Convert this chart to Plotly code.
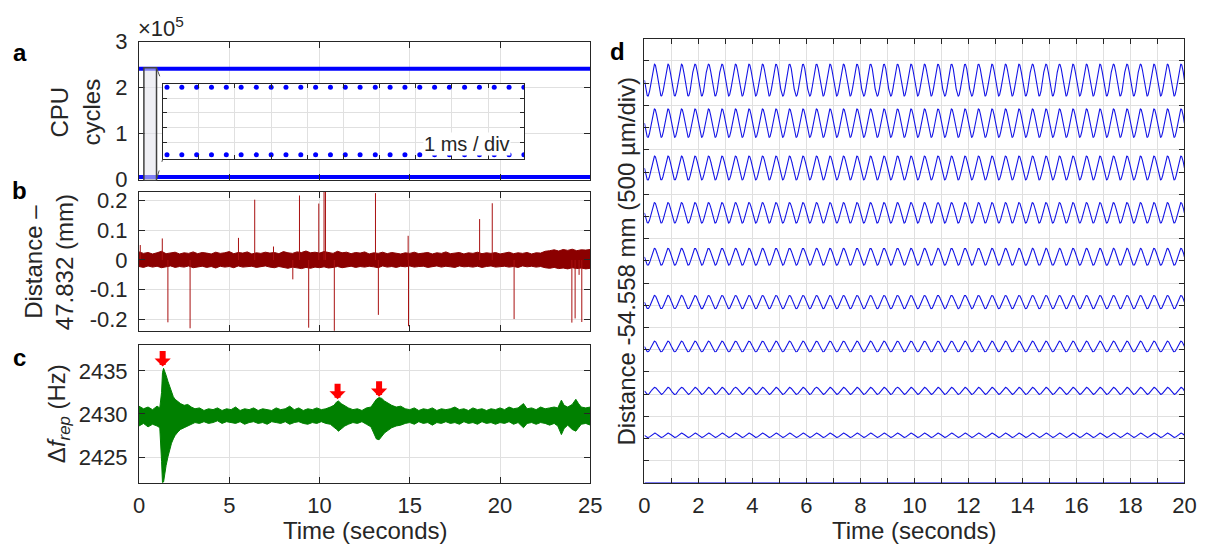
import numpy as np
import plotly.graph_objects as go

W, H = 1223, 558
FONT = "Liberation Sans, Arial, Helvetica, sans-serif"
TXT = "#262626"
GRID = "#e0e0e0"
AX = "#262626"

# ---------------- data ----------------
# panel a: CPU cycles (two levels) and inset samples (ms)
cpu_time = [0.0, 25.0]
cpu_high = [241000, 241000]
cpu_low = [5500, 5500]
inset_ms = [0.12, 0.53, 0.94, 1.35, 1.76, 2.17, 2.59, 3.00, 3.41, 3.82, 4.23, 4.64,
            5.05, 5.46, 5.88, 6.29, 6.70, 7.11, 7.52, 7.93, 8.35, 8.76, 9.17, 9.58, 9.99]
zoom_window = [0.27, 0.97]          # highlighted time window (s)

# panel b: distance noise envelope (sampled every 0.25 s) + spikes (mm)
b_t = [i * 0.25 for i in range(101)]
b_upper = [0.027, 0.022, 0.025, 0.020, 0.024, 0.029, 0.021, 0.023, 0.026, 0.020,
           0.024, 0.022, 0.027, 0.021, 0.025, 0.023, 0.020, 0.026, 0.022, 0.024,
           0.028, 0.021, 0.025, 0.023, 0.027, 0.020, 0.024, 0.022, 0.026, 0.023,
           0.025, 0.021, 0.028, 0.024, 0.022, 0.027, 0.025, 0.030, 0.024, 0.026,
           0.023, 0.028, 0.025, 0.022, 0.029, 0.024, 0.026, 0.021, 0.025, 0.023,
           0.027, 0.020, 0.024, 0.022, 0.026, 0.021, 0.025, 0.023, 0.020, 0.024,
           0.022, 0.026, 0.021, 0.023, 0.025, 0.020, 0.024, 0.022, 0.027, 0.021,
           0.023, 0.025, 0.020, 0.024, 0.022, 0.026, 0.021, 0.024, 0.022, 0.025,
           0.020, 0.023, 0.026, 0.021, 0.024, 0.022, 0.025, 0.020, 0.024, 0.023,
           0.029, 0.031, 0.034, 0.030, 0.035, 0.032, 0.036, 0.031, 0.034, 0.033,
           0.035]
b_lower = [-0.022, -0.025, -0.020, -0.024, -0.021, -0.026, -0.023, -0.020, -0.025, -0.022,
           -0.024, -0.020, -0.026, -0.023, -0.021, -0.025, -0.022, -0.027, -0.021, -0.024,
           -0.022, -0.026, -0.020, -0.024, -0.023, -0.021, -0.025, -0.022, -0.020, -0.024,
           -0.026, -0.022, -0.025, -0.028, -0.024, -0.027, -0.029, -0.025, -0.028, -0.024,
           -0.026, -0.023, -0.027, -0.025, -0.022, -0.026, -0.024, -0.021, -0.025, -0.022,
           -0.024, -0.021, -0.023, -0.026, -0.020, -0.024, -0.022, -0.025, -0.021, -0.023,
           -0.020, -0.024, -0.022, -0.021, -0.025, -0.022, -0.020, -0.024, -0.021, -0.023,
           -0.025, -0.020, -0.023, -0.022, -0.024, -0.021, -0.025, -0.022, -0.020, -0.024,
           -0.022, -0.021, -0.024, -0.022, -0.025, -0.020, -0.023, -0.021, -0.024, -0.022,
           -0.026, -0.028, -0.025, -0.029, -0.027, -0.030, -0.026, -0.029, -0.027, -0.030,
           -0.028]
spike_t = [0.07, 1.29, 1.60, 2.83, 5.51, 6.41, 7.45, 8.52, 8.89, 9.40, 9.96, 10.25, 10.33,
           10.82, 13.10, 13.26, 14.91, 14.93, 18.87, 19.57, 20.78, 23.98, 24.16, 24.38, 24.53]
spike_v = [0.050, 0.072, -0.209, -0.229, 0.074, 0.202, 0.045, -0.065, 0.216, -0.227, 0.189,
           0.250, 0.250, -0.250, 0.224, -0.184, 0.081, -0.222, 0.137, 0.190, -0.198, -0.210,
           -0.196, -0.050, -0.208]

# panel c: delta f_rep envelope (Hz)
c_t = [0.0, 0.25, 0.5, 0.75, 1.0, 1.15, 1.25, 1.3, 1.36, 1.42,
       1.5, 1.6, 1.7, 1.8, 1.9, 2.0, 2.15, 2.3, 2.5, 2.7,
       2.9, 3.1, 3.35, 3.6, 3.85, 4.1, 4.35, 4.6, 4.85, 5.1,
       5.35, 5.6, 5.85, 6.1, 6.35, 6.6, 6.85, 7.1, 7.35, 7.6,
       7.85, 8.1, 8.35, 8.6, 8.85, 9.1, 9.35, 9.6, 9.85, 10.1,
       10.35, 10.6, 10.8, 10.95, 11.05, 11.2, 11.4, 11.6, 11.85, 12.1,
       12.35, 12.6, 12.85, 13.0, 13.15, 13.3, 13.45, 13.6, 13.8, 14.0,
       14.25, 14.5, 14.75, 15.0, 15.25, 15.5, 15.75, 16.0, 16.25, 16.5,
       16.75, 17.0, 17.25, 17.5, 17.75, 18.0, 18.25, 18.5, 18.75, 19.0,
       19.25, 19.5, 19.75, 20.0, 20.25, 20.5, 20.75, 21.0, 21.3, 21.5,
       21.75, 22.0, 22.25, 22.5, 22.75, 23.0, 23.2, 23.4, 23.55, 23.75,
       24.0, 24.2, 24.35, 24.5, 24.75, 25.0]
c_upper = [2430.9, 2430.6, 2430.8, 2430.5, 2430.9, 2430.7, 2432.5, 2434.8, 2435.3, 2435.0,
           2434.5, 2433.8, 2433.1, 2432.5, 2432.0, 2431.7, 2431.4, 2431.2, 2431.0, 2431.1,
           2430.8, 2430.6, 2430.7, 2430.4, 2430.6, 2430.5, 2430.7, 2430.4, 2430.6, 2430.5,
           2430.8, 2430.4, 2430.6, 2430.5, 2430.7, 2430.4, 2430.6, 2430.5, 2430.4, 2430.7,
           2430.5, 2430.6, 2430.9, 2430.5, 2430.7, 2430.4, 2430.6, 2430.5, 2430.7, 2430.5,
           2430.6, 2430.8, 2431.0, 2431.4, 2431.5, 2431.2, 2430.9, 2430.7, 2430.5, 2430.6,
           2430.4, 2430.7, 2430.8, 2431.3, 2431.7, 2431.9, 2431.8, 2431.5, 2431.2, 2431.0,
           2430.8, 2430.9, 2430.6, 2430.5, 2430.7, 2430.4, 2430.6, 2430.5, 2430.7, 2430.4,
           2430.6, 2430.5, 2430.6, 2430.8, 2430.5, 2430.6, 2430.4, 2430.7, 2430.5, 2430.6,
           2430.4, 2430.6, 2430.5, 2430.7, 2430.5, 2430.8, 2430.6, 2430.7, 2431.2, 2430.6,
           2430.7, 2430.5, 2430.8, 2430.6, 2430.7, 2430.8, 2430.7, 2431.6, 2431.0, 2430.8,
           2431.1, 2431.7, 2431.2, 2430.8, 2430.7, 2430.8]
c_lower = [2428.6, 2428.9, 2428.5, 2428.8, 2428.6, 2428.4, 2424.5, 2422.0, 2422.1, 2423.0,
           2424.0, 2425.0, 2425.9, 2426.6, 2427.1, 2427.5, 2427.9, 2428.2, 2428.4, 2428.6,
           2428.8, 2429.0, 2428.9, 2429.1, 2428.9, 2429.0, 2429.2, 2428.9, 2429.1, 2429.0,
           2428.9, 2429.1, 2428.8, 2429.0, 2429.1, 2428.9, 2429.0, 2428.8, 2429.1, 2429.0,
           2428.9, 2429.1, 2428.8, 2429.0, 2429.1, 2428.9, 2428.8, 2429.0, 2428.9, 2429.1,
           2428.9, 2428.8, 2428.5, 2428.2, 2428.0, 2428.3, 2428.6, 2428.8, 2429.0, 2428.9,
           2429.1, 2428.8, 2428.5, 2427.8, 2427.1, 2427.0, 2427.4, 2427.8, 2428.1, 2428.4,
           2428.6, 2428.7, 2428.9, 2429.0, 2428.8, 2429.1, 2428.9, 2429.0, 2428.7, 2429.0,
           2428.9, 2429.1, 2428.9, 2429.0, 2428.8, 2429.1, 2428.9, 2429.0, 2428.8, 2429.1,
           2428.9, 2429.0, 2428.8, 2429.0, 2428.9, 2429.1, 2428.8, 2429.0, 2428.4, 2428.9,
           2429.0, 2428.8, 2429.0, 2428.9, 2428.7, 2428.9, 2428.6, 2427.6, 2428.3, 2428.7,
           2428.2, 2428.0, 2428.4, 2428.8, 2428.9, 2428.7]
arrow_t = [1.31, 11.0, 13.3]
arrow_tip = [2435.5, 2431.7, 2432.0]

# panel d: sinusoidal stage motion, 10 traces (offset, amplitude in divs)
d_offsets = [0.0, 1.07, 2.07, 3.07, 4.07, 5.09, 6.08, 7.09, 8.10, 9.07]
d_amps = [0.0, 0.05, 0.08, 0.12, 0.15, 0.19, 0.23, 0.27, 0.32, 0.36]
d_freq = 2.0  # Hz, read from the period (0.5 s)

# ---------------- layout geometry (pixels) ----------------
def px(x):
    return x / W

def py(y):
    return 1 - y / H

A = dict(x0=135, x1=593, y0=31, y1=176)
B = dict(x0=135, x1=593, y0=188, y1=333)
C = dict(x0=135, x1=593, y0=348, y1=492)
D = dict(x0=648, x1=1196, y0=28, y1=492)
I = dict(x0=159, x1=526, y0=75, y1=154)

def dom(p):
    return [px(p["x0"]), px(p["x1"])], [py(p["y1"]), py(p["y0"])]

fig = go.Figure()

# panel a
for lvl in (cpu_high, cpu_low):
    fig.add_trace(go.Scatter(x=cpu_time, y=lvl, mode="lines", line=dict(color="#0000ff", width=4),
                             xaxis="x", yaxis="y", showlegend=False))

# panel b
fig.add_trace(go.Scatter(x=b_t, y=b_lower, mode="lines", line=dict(color="#8b0000", width=1),
                         xaxis="x2", yaxis="y2", showlegend=False))
fig.add_trace(go.Scatter(x=b_t, y=b_upper, mode="lines", line=dict(color="#8b0000", width=1),
                         fill="tonexty", fillcolor="#8b0000", xaxis="x2", yaxis="y2", showlegend=False))
sx, sy = [], []
for t, v in zip(spike_t, spike_v):
    sx += [t, t, None]
    sy += [0, v, None]
fig.add_trace(go.Scatter(x=sx, y=sy, mode="lines", line=dict(color="#a81010", width=1),
                         xaxis="x2", yaxis="y2", showlegend=False))

# panel c
fig.add_trace(go.Scatter(x=c_t, y=c_lower, mode="lines", line=dict(color="#008000", width=1),
                         xaxis="x3", yaxis="y3", showlegend=False))
fig.add_trace(go.Scatter(x=c_t, y=c_upper, mode="lines", line=dict(color="#008000", width=1),
                         fill="tonexty", fillcolor="#008000", xaxis="x3", yaxis="y3", showlegend=False))

# panel d
td = np.linspace(0, 20, 4001)
for off, amp in zip(d_offsets, d_amps):
    fig.add_trace(go.Scatter(x=td, y=off - amp * np.sin(2 * np.pi * d_freq * td), mode="lines",
                             line=dict(color="#1414e6", width=1.1),
                             xaxis="x4", yaxis="y4", showlegend=False))

# inset
for lvl in (cpu_high, cpu_low):
    fig.add_trace(go.Scatter(x=inset_ms, y=[lvl[0]] * len(inset_ms), mode="markers",
                             marker=dict(color="#0000ff", size=5), xaxis="x5", yaxis="y5",
                             showlegend=False))

tickfont = dict(family=FONT, size=22, color=TXT)

def xax(p, anchor, showlabels, tickvals, ticktext=None, rng=(0, 25), ticklen=6):
    xd, _ = dom(p)
    d = dict(domain=xd, anchor=anchor, range=list(rng), showline=True, linecolor=AX, linewidth=1,
             mirror="ticks", ticks="inside", ticklen=ticklen, tickcolor=AX, showgrid=True,
             gridcolor=GRID, gridwidth=1, zeroline=False, tickvals=tickvals,
             showticklabels=showlabels, tickfont=tickfont, ticklabelstandoff=3)
    if ticktext is not None:
        d["ticktext"] = ticktext
    return d

def yax(p, anchor, rng, tickvals, ticktext=None, showlabels=True, ticklen=6):
    _, yd = dom(p)
    d = dict(domain=yd, anchor=anchor, range=list(rng), showline=True, linecolor=AX, linewidth=1,
             mirror="ticks", ticks="inside", ticklen=ticklen, tickcolor=AX, showgrid=True,
             gridcolor=GRID, gridwidth=1, zeroline=False, tickvals=tickvals,
             showticklabels=showlabels, tickfont=tickfont, ticklabelstandoff=6)
    if ticktext is not None:
        d["ticktext"] = ticktext
    return d

x5 = [0, 5, 10, 15, 20, 25]
A_yrange = [-2000, 300000]
I_yrange = [-10150, 252800]
layout = dict(
    width=W, height=H, margin=dict(l=0, r=0, t=0, b=0),
    paper_bgcolor="white", plot_bgcolor="white", showlegend=False,
    font=dict(family=FONT, color=TXT),
    xaxis=xax(A, "y", False, x5),
    yaxis=yax(A, "x", A_yrange, [0, 100000, 200000, 300000], ["0", "1", "2", "3"]),
    xaxis2=xax(B, "y2", False, x5),
    yaxis2=yax(B, "x2", [-0.237, 0.228], [-0.2, -0.1, 0, 0.1, 0.2], ["-0.2", "-0.1", "0", "0.1", "0.2"]),
    xaxis3=xax(C, "y3", True, x5),
    yaxis3=yax(C, "x3", [2422, 2438], [2425, 2430, 2435]),
    xaxis4=xax(D, "y4", True, list(range(21)), [str(v) if v % 2 == 0 else "" for v in range(21)],
               rng=(0, 20), ticklen=5),
    yaxis4=yax(D, "x4", [0, 10], [v * 0.5 for v in range(21)], showlabels=False, ticklen=5),
    xaxis5=xax(I, "y5", False, list(range(11)), rng=(0, 10), ticklen=4),
    yaxis5=yax(I, "x5", I_yrange, [49700, 100850, 152000, 203150], showlabels=False, ticklen=4),
)
fig.update_layout(**layout)

# highlight rectangle and dashed connectors
fig.add_shape(type="rect", xref="x", yref="y", x0=zoom_window[0], x1=zoom_window[1],
              y0=A_yrange[0], y1=243000, line=dict(color="#404040", width=1.5),
              fillcolor="rgba(225,225,235,0.55)", layer="above")

def a_to_paper(t, v):
    xp = A["x0"] + (t - 0) / 25 * (A["x1"] - A["x0"])
    yp = A["y1"] - (v - A_yrange[0]) / (A_yrange[1] - A_yrange[0]) * (A["y1"] - A["y0"])
    return px(xp), py(yp)

p1 = a_to_paper(zoom_window[1], 243000)
p2 = a_to_paper(zoom_window[1], A_yrange[0] + 3000)
fig.add_shape(type="line", xref="paper", yref="paper", x0=p1[0], y0=p1[1], x1=px(I["x0"]), y1=py(I["y0"]),
              line=dict(color="#505050", width=1, dash="dash"))
fig.add_shape(type="line", xref="paper", yref="paper", x0=p2[0], y0=p2[1], x1=px(I["x0"]), y1=py(I["y1"]),
              line=dict(color="#505050", width=1, dash="dash"))

ann = []
def text(x, y, s, size=24, angle=0, bold=False, **kw):
    d = dict(x=px(x), y=py(y), xref="paper", yref="paper", text=("<b>%s</b>" % s) if bold else s,
             showarrow=False, textangle=angle,
             font=dict(family=FONT, size=size, color="black" if bold else TXT),
             xanchor="center", yanchor="middle")
    d.update(kw)
    ann.append(d)

text(14, 42, "a", 24, bold=True)
text(14, 187, "b", 24, bold=True)
text(14, 361, "c", 24, bold=True)
text(621, 41, "d", 24, bold=True)
text(157, 16, "×10<sup>5</sup>", 22)
text(70, 104, "CPU<br>cycles", 24, angle=-90)
text(43, 261, "Distance –<br>47.832 (mm)", 24, angle=-90)
text(54, 420, "Δ<i>f</i><sub><i>rep</i></sub> (Hz)", 24, angle=-90)
text(630, 260, "Distance -54.558 mm (500 µm/div)", 24, angle=-90)
text(364, 542, "Time (seconds)", 24)
text(922, 542, "Time (seconds)", 24)
text(468, 138, "1 ms / div", 20, bgcolor="white", borderpad=0)

for t, tip in zip(arrow_t, arrow_tip):
    ann.append(dict(x=t, y=tip, xref="x3", yref="y3", showarrow=True, ax=0, ay=-17,
                    arrowhead=1, arrowwidth=6, arrowsize=0.45, arrowcolor="#ff0000", text=""))

fig.update_layout(annotations=ann)
fig.write_html("out.html", config={"displayModeBar": False},
               post_script="document.body.style.margin='0px';document.body.style.overflow='hidden';")
